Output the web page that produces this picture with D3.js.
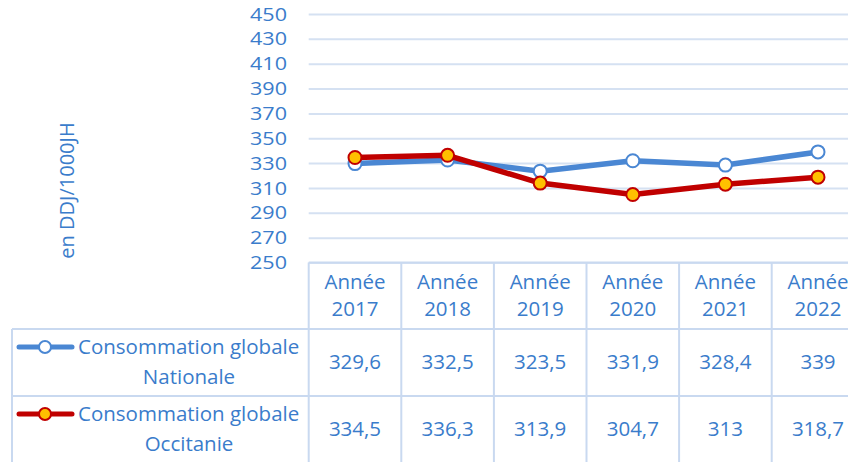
<!DOCTYPE html>
<html><head><meta charset="utf-8">
<script src="https://cdn.jsdelivr.net/npm/d3@7"></script>
<style>html,body{margin:0;padding:0;background:#fff;overflow:hidden}svg{display:block}</style>
</head><body><svg id="c" width="848" height="462"></svg>
<script>
const categories = ["Année 2017","Année 2018","Année 2019","Année 2020","Année 2021","Année 2022"];
const national = [329.6, 332.5, 323.5, 331.9, 328.4, 339];
const occitanie = [334.5, 336.3, 313.9, 304.7, 313, 318.7];
const seriesNames = [["Consommation globale","Nationale"],["Consommation globale","Occitanie"]];
const yTicks = [250,270,290,310,330,350,370,390,410,430,450];
const yTitle = "en DDJ/1000JH";

const FONT = "'Open Sans', sans-serif";
const TXT = "#3a7ccb";
const BLUE = "#4a87d3";
const RED = "#c00000";
const GOLD = "#ffc000";
const GRID = "#d5e1f2";
const BORDER = "#c9d9f0";
const FS = 20.5;

const svg = d3.select("#c");
const x = d3.scaleBand().domain(categories).range([308.7, 864.3]);
const y = d3.scaleLinear().domain([250,450]).range([262.5,14]);

// gridlines
const gAxis = svg.append("g").attr("transform","translate(308.7,0)")
  .call(d3.axisLeft(y).tickValues(yTicks).tickSize(-(864.3-308.7)).tickFormat(""));
gAxis.select(".domain").remove();
gAxis.selectAll(".tick line").attr("stroke",GRID).attr("stroke-width",2);

// tick labels
svg.append("g").selectAll("text").data(yTicks).join("text")
  .attr("x",287).attr("y",d=>y(d)).attr("dy","0.36em")
  .attr("text-anchor","end").attr("font-family",FONT).attr("font-size",18.2).attr("fill",TXT)
  .attr("textLength",37).attr("lengthAdjust","spacingAndGlyphs")
  .text(d=>d);

// y title
svg.append("text").attr("transform","translate(67,190.5) rotate(-90)")
  .attr("text-anchor","middle").attr("dy","0.35em")
  .attr("font-family",FONT).attr("font-size",20).attr("fill",TXT).text(yTitle);

// table
const rowTop = [262.5, 329, 396, 463];
const tbl = svg.append("g").attr("stroke",BORDER).attr("stroke-width",2).attr("fill","none");
tbl.append("line").attr("x1",x.range()[0]).attr("x2",848).attr("y1",rowTop[0]).attr("y2",rowTop[0]);
tbl.append("line").attr("x1",12).attr("x2",848).attr("y1",rowTop[1]).attr("y2",rowTop[1]);
tbl.append("line").attr("x1",12).attr("x2",848).attr("y1",rowTop[2]).attr("y2",rowTop[2]);
tbl.append("line").attr("x1",12).attr("x2",12).attr("y1",rowTop[1]).attr("y2",470);
categories.forEach(c=>{
  const xx = x(c);
  tbl.append("line").attr("x1",xx).attr("x2",xx).attr("y1",rowTop[0]).attr("y2",470);
});

// header text
const hdr = svg.append("g").attr("font-family",FONT).attr("font-size",FS).attr("fill",TXT).attr("text-anchor","middle");
categories.forEach(c=>{
  const parts = c.split(" ");
  const cx = x(c)+x.bandwidth()/2;
  hdr.append("text").attr("x",cx).attr("y",282).attr("dy","0.35em").text(parts[0]);
  hdr.append("text").attr("x",cx).attr("y",309).attr("dy","0.35em").text(parts[1]);
});

const fmt = v => String(v).replace(".", ",");
[national, occitanie].forEach((vals,i)=>{
  const cy = (rowTop[i+1]+rowTop[i+2])/2 - 1;
  svg.append("g").selectAll("text").data(vals).join("text")
    .attr("x",(d,j)=>x(categories[j])+x.bandwidth()/2).attr("y",cy).attr("dy","0.35em")
    .attr("text-anchor","middle").attr("font-family",FONT).attr("font-size",FS).attr("fill",TXT)
    .text(fmt);
});

// legend keys
const legendStyles = [{line:BLUE, fill:"#fff"},{line:RED, fill:GOLD}];
legendStyles.forEach((s,i)=>{
  const ly = i===0 ? 347 : 414;
  const g = svg.append("g");
  g.append("line").attr("x1",19).attr("x2",72).attr("y1",ly).attr("y2",ly)
    .attr("stroke",s.line).attr("stroke-width",5).attr("stroke-linecap","round");
  g.append("circle").attr("cx",45).attr("cy",ly).attr("r",6)
    .attr("fill",s.fill).attr("stroke",s.line).attr("stroke-width",2);
  g.append("text").attr("x",78).attr("y",ly).attr("dy","0.35em")
    .attr("font-family",FONT).attr("font-size",FS).attr("fill",TXT).text(seriesNames[i][0]);
  g.append("text").attr("x",189).attr("y",ly+30).attr("dy","0.35em").attr("text-anchor","middle")
    .attr("font-family",FONT).attr("font-size",FS).attr("fill",TXT).text(seriesNames[i][1]);
});

// lines
const line = d3.line().x((d,i)=>x(categories[i])+x.bandwidth()/2).y(d=>y(d));
const series = [{vals:national, ...legendStyles[0]},{vals:occitanie, ...legendStyles[1]}];
series.forEach(s=>{
  svg.append("path").datum(s.vals).attr("d",line).attr("fill","none")
    .attr("stroke",s.line).attr("stroke-width",5.5).attr("stroke-linejoin","round").attr("stroke-linecap","round");
  svg.append("g").selectAll("circle").data(s.vals).join("circle")
    .attr("cx",(d,i)=>x(categories[i])+x.bandwidth()/2).attr("cy",d=>y(d)).attr("r",6.5)
    .attr("fill",s.fill).attr("stroke",s.line).attr("stroke-width",2);
});
</script></body></html>
